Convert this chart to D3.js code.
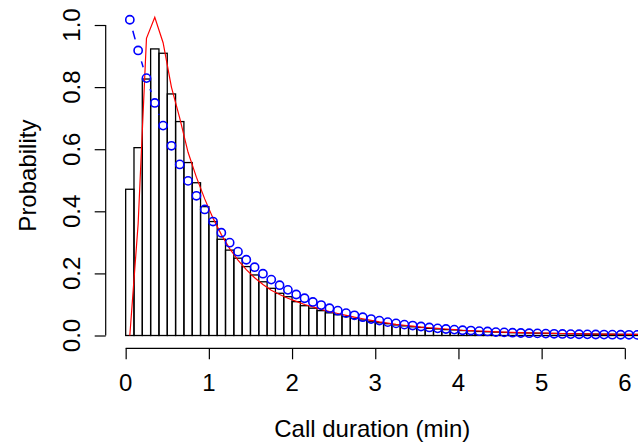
<!DOCTYPE html>
<html>
<head>
<meta charset="utf-8">
<script src="https://cdn.jsdelivr.net/npm/d3@7"></script>
<style>
  html, body { margin: 0; padding: 0; background: #fff; }
  svg { display: block; }
  text { font-family: "Liberation Sans", Arial, Helvetica, sans-serif; fill: #000; }
</style>
</head>
<body>
<svg id="chart" width="638" height="442"></svg>
<script>
// Histogram of call durations: bin width 0.1 min starting at 0, density heights per bin
const binWidth = 0.1;
const histDensity = [
  0.471, 0.605, 0.826, 0.923, 0.909, 0.778, 0.689, 0.557, 0.492, 0.415,
  0.367, 0.310, 0.275, 0.249, 0.222, 0.195, 0.173, 0.152, 0.136, 0.125,
  0.109, 0.096, 0.088, 0.080, 0.073, 0.067, 0.061, 0.055, 0.050, 0.046,
  0.041, 0.038, 0.034, 0.031, 0.028, 0.026, 0.023, 0.021, 0.019, 0.018,
  0.016, 0.015, 0.013, 0.012, 0.011, 0.010, 0.009, 0.0085, 0.008, 0.0075,
  0.007, 0.0065, 0.006, 0.0056, 0.0052, 0.0048, 0.0045, 0.0042, 0.004, 0.0037,
  0.0035, 0.0033, 0.003
];

// Fitted density (red line), evaluated at the bin midpoints
const fitDensity = [
  0.0, 0.36, 0.957, 1.025, 0.943, 0.80, 0.70, 0.59, 0.51, 0.44,
  0.378, 0.325, 0.28, 0.243, 0.212, 0.186, 0.164, 0.146, 0.132, 0.12,
  0.11, 0.10, 0.092, 0.084, 0.077, 0.071, 0.065, 0.059, 0.054, 0.049,
  0.044, 0.040, 0.036, 0.033, 0.030, 0.027, 0.025, 0.023, 0.021, 0.019,
  0.017, 0.016, 0.0145, 0.013, 0.012, 0.011, 0.010, 0.0093, 0.0086, 0.008,
  0.0074, 0.0069, 0.0064, 0.006, 0.0056, 0.0052, 0.0049, 0.0046, 0.0043, 0.004,
  0.0038, 0.0036, 0.0034
];

// Exponential model (blue points), evaluated at the bin midpoints
const expDensity = [
  1.017, 0.918, 0.829, 0.749, 0.676, 0.611, 0.551, 0.498, 0.450, 0.406,
  0.367, 0.331, 0.299, 0.270, 0.244, 0.220, 0.199, 0.180, 0.162, 0.147,
  0.132, 0.120, 0.108, 0.098, 0.088, 0.080, 0.072, 0.065, 0.059, 0.053,
  0.048, 0.043, 0.039, 0.035, 0.032, 0.029, 0.026, 0.023, 0.021, 0.019,
  0.017, 0.016, 0.014, 0.013, 0.011, 0.010, 0.009, 0.008, 0.0075, 0.0068,
  0.0061, 0.0055, 0.005, 0.0045, 0.004, 0.0037, 0.0033, 0.003, 0.0027, 0.0024,
  0.0022, 0.002
];

const xTicks = [0, 1, 2, 3, 4, 5, 6];
const yTicks = [0.0, 0.2, 0.4, 0.6, 0.8, 1.0];
const xTitle = "Call duration (min)";
const yTitle = "Probability";

// Plot region (base-graphics style: axis ranges padded by 4%)
const plot = { left: 105.7, right: 644.8, top: 2.9, bottom: 348.3 };
const xlim = [0, 6], ylim = [0, 1.03];
const padX = 0.04 * (xlim[1] - xlim[0]), padY = 0.04 * (ylim[1] - ylim[0]);

const x = d3.scaleLinear().domain([xlim[0] - padX, xlim[1] + padX]).range([plot.left, plot.right]);
const y = d3.scaleLinear().domain([ylim[0] - padY, ylim[1] + padY]).range([plot.bottom, plot.top]);

const svg = d3.select("#chart");
const fontSize = 24;
const tickLen = 11;

svg.append("clipPath").attr("id", "plotclip")
  .append("rect")
  .attr("x", plot.left).attr("y", plot.top)
  .attr("width", plot.right - plot.left).attr("height", plot.bottom - plot.top);

const g = svg.append("g").attr("clip-path", "url(#plotclip)");

// Histogram bars: open rectangles
const bins = histDensity.map((d, i) => ({ x0: i * binWidth, x1: (i + 1) * binWidth, h: d }));
g.append("g").selectAll("rect").data(bins).join("rect")
  .attr("x", d => x(d.x0))
  .attr("y", d => y(d.h))
  .attr("width", d => x(d.x1) - x(d.x0))
  .attr("height", d => y(0) - y(d.h))
  .attr("fill", "none")
  .attr("stroke", "#000")
  .attr("stroke-width", 1.3);

// Fitted density line
const mids = fitDensity.map((d, i) => ({ x: (i + 0.5) * binWidth, v: d }));
g.append("path")
  .datum(mids)
  .attr("fill", "none")
  .attr("stroke", "#ff0000")
  .attr("stroke-width", 1.2)
  .attr("d", d3.line().x(d => x(d.x)).y(d => y(d.v)));

// Exponential model: points joined by dashed segments that stop short of each point
const pts = expDensity.map((d, i) => ({ px: x((i + 0.5) * binWidth), py: y(d) }));
const gap = 11.4;
const segs = [];
for (let i = 0; i < pts.length - 1; i++) {
  const a = pts[i], b = pts[i + 1];
  const dx = b.px - a.px, dy = b.py - a.py;
  const len = Math.hypot(dx, dy);
  if (len > 2 * gap) {
    const ux = dx / len, uy = dy / len;
    segs.push({ x1: a.px + ux * gap, y1: a.py + uy * gap, x2: b.px - ux * gap, y2: b.py - uy * gap });
  }
}
g.append("g").selectAll("line").data(segs).join("line")
  .attr("x1", d => d.x1).attr("y1", d => d.y1)
  .attr("x2", d => d.x2).attr("y2", d => d.y2)
  .attr("stroke", "#0000ff")
  .attr("stroke-width", 1.5)
  .attr("stroke-dasharray", "9,9");

g.append("g").selectAll("circle").data(pts).join("circle")
  .attr("cx", d => d.px)
  .attr("cy", d => d.py)
  .attr("r", 4.1)
  .attr("fill", "none")
  .attr("stroke", "#0000ff")
  .attr("stroke-width", 1.6);

// Axes: ticks from d3 axes, axis line only across the tick range
const xAxis = svg.append("g")
  .attr("transform", `translate(0,${plot.bottom})`)
  .call(d3.axisBottom(x).tickValues(xTicks).tickSize(tickLen).tickFormat(""));
xAxis.select(".domain").remove();
xAxis.selectAll(".tick line").attr("stroke", "#000").attr("stroke-width", 1.2);
xAxis.append("line")
  .attr("x1", x(xTicks[0])).attr("x2", x(xTicks[xTicks.length - 1]))
  .attr("y1", 0).attr("y2", 0)
  .attr("stroke", "#000").attr("stroke-width", 1.2);

const yAxis = svg.append("g")
  .attr("transform", `translate(${plot.left},0)`)
  .call(d3.axisLeft(y).tickValues(yTicks).tickSize(tickLen).tickFormat(""));
yAxis.select(".domain").remove();
yAxis.selectAll(".tick line").attr("stroke", "#000").attr("stroke-width", 1.2);
yAxis.append("line")
  .attr("x1", 0).attr("x2", 0)
  .attr("y1", y(yTicks[0])).attr("y2", y(yTicks[yTicks.length - 1]))
  .attr("stroke", "#000").attr("stroke-width", 1.2);

// Tick labels
svg.append("g").selectAll("text").data(xTicks).join("text")
  .attr("x", d => x(d))
  .attr("y", 391)
  .attr("text-anchor", "middle")
  .attr("font-size", fontSize)
  .text(d => d3.format("d")(d));

const yLabX = 80;
svg.append("g").selectAll("text").data(yTicks).join("text")
  .attr("transform", d => `translate(${yLabX},${y(d)}) rotate(-90)`)
  .attr("text-anchor", "middle")
  .attr("font-size", fontSize)
  .text(d => d3.format(".1f")(d));

// Axis titles
svg.append("text")
  .attr("x", (plot.left + plot.right) / 2 - 3)
  .attr("y", 437)
  .attr("text-anchor", "middle")
  .attr("font-size", fontSize)
  .text(xTitle);

svg.append("text")
  .attr("transform", `translate(36,${(plot.top + plot.bottom) / 2}) rotate(-90)`)
  .attr("text-anchor", "middle")
  .attr("font-size", fontSize)
  .text(yTitle);
</script>
</body>
</html>
